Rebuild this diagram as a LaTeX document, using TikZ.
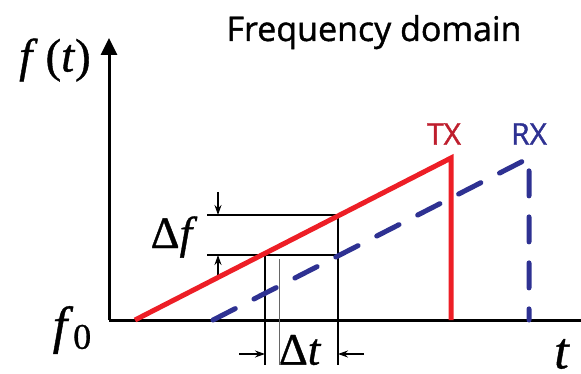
\documentclass[tikz,border=0pt]{standalone}
\usepackage{fontspec}
\setmainfont{Liberation Serif}[FakeBold=0.8]
\newfontfamily\titlefont{Open Sans}[FakeBold=1.2]
\usetikzlibrary{arrows.meta}
\definecolor{txred}{RGB}{237,30,38}
\definecolor{txtext}{RGB}{190,30,45}
\definecolor{rxblue}{RGB}{46,49,146}

\begin{document}
\begin{tikzpicture}[x=1pt, y=-1pt,
        axis/.style={line width=3pt},
        txline/.style={line width=5pt, draw=txred},
        rxline/.style={line width=5pt, draw=rxblue,
            dash pattern=on 25pt off 21pt, line cap=round},
        guide/.style={line width=1.4pt},
        thinguide/.style={line width=0.8pt, draw=gray!80!black},
        marker/.style={-{Stealth[length=10pt, width=7pt]}, line width=1.2pt},
        title/.style={font=\titlefont\fontsize{34}{40}\selectfont},
        sig/.style={font=\titlefont\fontsize{30}{34}\selectfont, inner sep=0pt},
        sym/.style={font=\fontsize{47}{50}\selectfont, inner sep=0pt}
      ]
      \useasboundingbox (0,0) rectangle (581,374);
      % axes
      \coordinate (O)    at (109,320);
      \coordinate (ytop) at (109,38);
      \coordinate (xend) at (581,320);
      \draw[axis, -{Triangle[length=17pt, width=16pt]}] (O) -- (ytop);
      \draw[axis] (O) -- (xend);
      % delta f / delta t guides
      \coordinate (dfa) at (207,215);
      \coordinate (dfb) at (338,215);
      \coordinate (dfc) at (207,255);
      \coordinate (dfd) at (265,255);
      \coordinate (dfe) at (338,255);
      \coordinate (dta) at (265,365);
      \coordinate (dtb) at (338,365);
      \coordinate (dtc) at (279,259);
      \coordinate (dtd) at (279,365);
      \draw[guide] (dfa) -- (dfb);
      \draw[guide] (dfc) -- (dfe);
      \draw[guide] (dfd) -- (dta);
      \draw[guide] (dfb) -- (dtb);
      \draw[thinguide] (dtc) -- (dtd);
      \coordinate (mka) at (218,192);
      \coordinate (mkb) at (218,215);
      \coordinate (mkc) at (218,278);
      \coordinate (mkd) at (218,255);
      \coordinate (mke) at (239,354);
      \coordinate (mkf) at (265,354);
      \coordinate (mkg) at (364,354);
      \coordinate (mkh) at (338,354);
      \draw[marker] (mka) -- (mkb);
      \draw[marker] (mkc) -- (mkd);
      \draw[marker] (mke) -- (mkf);
      \draw[marker] (mkg) -- (mkh);
      % chirps
      \coordinate (tx0) at (135,320);
      \coordinate (txp) at (451,158);
      \coordinate (tx1) at (451,320);
      \coordinate (rx0) at (213,320);
      \coordinate (rxp) at (529,158);
      \coordinate (rx1) at (529,320);
      \draw[txline] (tx0) -- (txp) -- (tx1);
      \draw[rxline] (rx0) -- (rxp) -- (rx1);
      % labels
      \node[title, anchor=base] (ttl) at (374,41) {Frequency domain};
      \node[sig, text=txtext] (txlab) at (444,134) {TX};
      \node[sig, text=rxblue] (rxlab) at (529,134) {RX};
      \node[sym] (flab) at (55,60) {\textit{f}\,(\textit{t})};
      \node[sym, font=\fontsize{52}{56}\selectfont] (f0lab) at (72,330)
      {\textit{f}\raisebox{-6pt}{\fontsize{36}{38}\selectfont 0}};
      \node[sym, font=\fontsize{52}{56}\selectfont] (tlab) at (562,354) {\textit{t}};
      \node[sym, font=\fontsize{45}{48}\selectfont] (dflab) at (174,237) {Δ\textit{f}};
      \node[sym, font=\fontsize{45}{48}\selectfont] (dtlab) at (300,350) {Δ\textit{t}};
    \end{tikzpicture}
\end{document}
